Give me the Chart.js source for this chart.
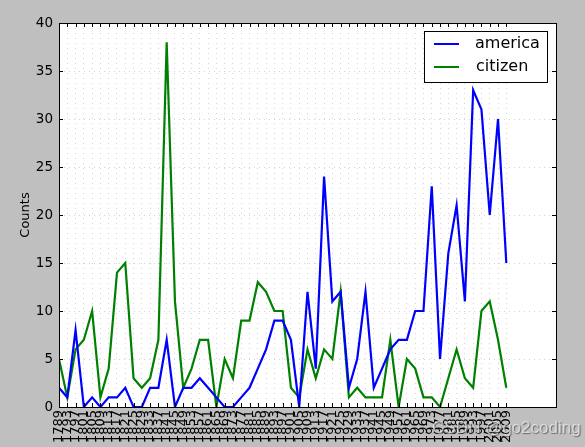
<!DOCTYPE html>
<html>
<head>
<meta charset="utf-8">
<style>
html,body{margin:0;padding:0;background:#bfbfbf;}
#wrap{position:relative;width:585px;height:447px;overflow:hidden;}
canvas{display:block;}
#mark{position:absolute;left:432px;top:418px;font:17px "Liberation Sans",sans-serif;color:rgba(235,235,235,.75);text-shadow:1px 1px 1px rgba(70,70,70,.7);white-space:nowrap;}
</style>
<script src="https://cdn.jsdelivr.net/npm/chart.js@4"></script>
</head>
<body>
<div id="wrap">
<canvas id="c" width="585" height="447"></canvas>
<div id="mark">CSDN @go2coding</div>
</div>
<script>
var years=[1789,1793,1797,1801,1805,1809,1813,1817,1821,1825,1829,1833,1837,1841,1845,1849,1853,1857,1861,
1865,1869,1873,1877,1881,1885,1889,1893,1897,1901,1905,1909,1913,1917,1921,1925,1929,1933,1937,1941,
1945,1949,1957,1961,1965,1969,1973,1977,1981,1985,1989,1993,1997,2001,2005,2009];
var america=[2,1,8,0,1,0,1,1,2,0,0,2,2,7,0,2,2,3,2,1,0,0,1,2,4,6,9,9,7,0,12,4,24,11,12,2,5,12,2,4,6,7,7,10,10,23,5,16,21,11,33,31,20,30,15];
var citizen=[5,1,6,7,10,1,4,14,15,3,2,3,7,38,11,2,4,7,7,0,5,3,9,9,13,12,10,10,2,1,6,3,6,5,12,1,2,1,1,1,7,0,5,4,1,1,0,3,6,3,2,10,11,7,2];
var yTicks=[0,5,10,15,20,25,30,35,40];

var font='"DejaVu Sans",sans-serif';

function points(values){
  return values.map(function(v,i){return {x:i,y:v};});
}

/* white plot area */
var backPlugin={
  id:'back',
  beforeDraw:function(chart){
    var a=chart.chartArea;
    chart.ctx.save();
    chart.ctx.fillStyle='#fff';
    chart.ctx.fillRect(a.left,a.top,a.right-a.left,a.bottom-a.top);
    chart.ctx.restore();
  }
};

/* frame, inward ticks and legend box */
var framePlugin={
  id:'frame',
  afterDatasetsDraw:function(chart){
    var g=chart.ctx,a=chart.chartArea,sx=chart.scales.x,sy=chart.scales.y;
    g.save();
    g.strokeStyle='#000';
    g.lineWidth=1;
    g.beginPath();
    years.forEach(function(y,i){
      var px=Math.round(sx.getPixelForValue(i))+0.5;
      g.moveTo(px,a.top);g.lineTo(px,a.top+4);
      g.moveTo(px,a.bottom);g.lineTo(px,a.bottom-4);
    });
    yTicks.forEach(function(v){
      var py=Math.round(sy.getPixelForValue(v))+0.5;
      g.moveTo(a.left,py);g.lineTo(a.left+4,py);
      g.moveTo(a.right,py);g.lineTo(a.right-4,py);
    });
    g.stroke();
    g.strokeRect(a.left+0.5,a.top+0.5,a.right-a.left,a.bottom-a.top);

    g.fillStyle='#fff';
    g.fillRect(424.5,31.5,123,51);
    g.strokeRect(424.5,31.5,123,51);
    chart.data.datasets.forEach(function(d,i){
      var y=44+i*23;
      g.strokeStyle=d.borderColor;
      g.lineWidth=2;
      g.beginPath();g.moveTo(434,y);g.lineTo(459,y);g.stroke();
      g.fillStyle='#000';
      g.font='16px '+font;
      g.textAlign='left';
      g.textBaseline='middle';
      g.fillText(d.label,i==0?475:476,y);
    });
    g.restore();
  }
};

new Chart(document.getElementById('c'),{
  type:'line',
  data:{
    datasets:[
      {label:'america',data:points(america),borderColor:'#0000ff',borderWidth:2.2,pointRadius:0,tension:0,fill:false},
      {label:'citizen',data:points(citizen),borderColor:'#008000',borderWidth:2.2,pointRadius:0,tension:0,fill:false}
    ]
  },
  plugins:[backPlugin,framePlugin],
  options:{
    responsive:false,
    animation:false,
    layout:{padding:{top:23,right:29,left:0,bottom:0}},
    plugins:{legend:{display:false},tooltip:{enabled:false}},
    scales:{
      x:{
        type:'linear',
        min:0,
        max:60,
        afterBuildTicks:function(s){s.ticks=years.map(function(y,i){return {value:i};});},
        afterFit:function(s){s.height=40;},
        grid:{color:'#d4d4d4',drawTicks:false},
        border:{display:false,dash:[1,4]},
        ticks:{
          autoSkip:false,
          minRotation:90,
          maxRotation:90,
          padding:3,
          color:'#000',
          font:{family:font,size:13},
          callback:function(v){return years[v];}
        }
      },
      y:{
        min:0,
        max:40,
        afterBuildTicks:function(s){s.ticks=yTicks.map(function(v){return {value:v};});},
        afterFit:function(s){s.width=59;},
        grid:{color:'#d4d4d4',drawTicks:false},
        border:{display:false,dash:[1,4]},
        title:{display:true,text:'Counts',color:'#000',font:{family:font,size:13},padding:{top:18,bottom:0}},
        ticks:{padding:6,color:'#000',font:{family:font,size:13.5}}
      }
    }
  }
});
</script>
</body>
</html>
